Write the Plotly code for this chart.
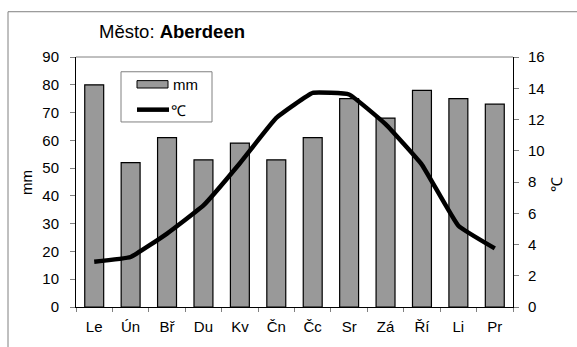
import plotly.graph_objects as go

# Monthly climate normals for Aberdeen
months = ["Le", "Ún", "Bř", "Du", "Kv", "Čn", "Čc", "Sr", "Zá", "Ří", "Li", "Pr"]
precip_mm = [80, 52, 61, 53, 59, 53, 61, 75, 68, 78, 75, 73]
temp_c = [2.9, 3.2, 4.7, 6.5, 9.2, 12.1, 13.7, 13.6, 11.7, 9.1, 5.2, 3.75]

left_ticks = list(range(0, 91, 10))
right_ticks = list(range(0, 17, 2))

FONT = "Liberation Sans, Arial, sans-serif"
BAR_FILL = "#999999"

# plot-area geometry in pixels, used to place the frame and legend box
W, H = 577, 347
L, R, T, B = 76, 64, 57, 36
PW, PH = W - L - R, H - T - B


def px(x):
    return (x - L) / PW


def py(y):
    return (H - B - y) / PH


fig = go.Figure()

fig.add_trace(go.Bar(
    x=months, y=precip_mm, name="mm",
    marker=dict(color=BAR_FILL, line=dict(color="#000000", width=1.2)),
    showlegend=False,
))
fig.add_trace(go.Scatter(
    x=months, y=temp_c, name="℃", yaxis="y2",
    mode="lines",
    line=dict(color="#000000", width=4.5, shape="spline", smoothing=0.3),
    showlegend=False,
))

fig.update_layout(
    width=W, height=H,
    margin=dict(l=L, r=R, t=T, b=B),
    paper_bgcolor="white", plot_bgcolor="white",
    font=dict(family=FONT, size=15, color="#000000"),
    bargap=0.48,
    title=dict(
        text="Město: <b>Aberdeen</b>",
        x=px(172), xref="paper", xanchor="center",
        y=1 - 32 / H, yanchor="middle",
        font=dict(family=FONT, size=18.5, color="#000000"),
    ),
    xaxis=dict(
        type="category", tickson="boundaries",
        showline=True, linecolor="#000000", linewidth=1,
        ticks="outside", ticklen=4, tickcolor="#808080",
        showgrid=False, zeroline=False,
        ticklabelstandoff=6,
    ),
    yaxis=dict(
        range=[0, 90], tickvals=left_ticks,
        showline=True, linecolor="#000000", linewidth=1,
        ticks="outside", ticklen=5, tickcolor="#808080",
        showgrid=False, zeroline=False,
        ticklabelstandoff=8,
    ),
    yaxis2=dict(
        range=[0, 16], tickvals=right_ticks,
        overlaying="y", side="right",
        showline=True, linecolor="#000000", linewidth=1,
        ticks="outside", ticklen=5, tickcolor="#808080",
        showgrid=False, zeroline=False,
        ticklabelstandoff=6,
    ),
)

# Axis titles
fig.add_annotation(text="mm", x=px(27), y=py(185), xref="paper", yref="paper",
                   xanchor="center", yanchor="middle",
                   textangle=-90, showarrow=False, font=dict(family=FONT, size=15))
fig.add_annotation(text="℃", x=px(557), y=py(187), xref="paper", yref="paper",
                   xanchor="center", yanchor="middle",
                   textangle=-90, showarrow=False, font=dict(family=FONT, size=15))

# Grey top edge of the plot area
fig.add_shape(type="line", xref="paper", yref="paper", x0=0, x1=1, y0=1, y1=1,
              line=dict(color="#808080", width=1))
# Outer chart frame (left and top edges)
fig.add_shape(type="line", xref="paper", yref="paper", x0=px(8), x1=px(8),
              y0=py(11), y1=py(H + 5), line=dict(color="#808080", width=1))
fig.add_shape(type="line", xref="paper", yref="paper", x0=px(8), x1=px(W + 5),
              y0=py(11), y1=py(11), line=dict(color="#808080", width=1))

# Legend box with a wide bar swatch and a line sample
fig.add_shape(type="rect", xref="paper", yref="paper",
              x0=px(121), x1=px(212), y0=py(72), y1=py(123),
              line=dict(color="#808080", width=1), fillcolor="white", layer="above")
fig.add_shape(type="rect", xref="paper", yref="paper",
              x0=px(137), x1=px(168), y0=py(81), y1=py(88.5),
              line=dict(color="#000000", width=1), fillcolor=BAR_FILL, layer="above")
fig.add_shape(type="line", xref="paper", yref="paper",
              x0=px(137), x1=px(169), y0=py(110.5), y1=py(110.5),
              line=dict(color="#000000", width=4.5), layer="above")
fig.add_annotation(text="mm", x=px(171), y=py(85), xref="paper", yref="paper",
                   xanchor="left", yanchor="middle", showarrow=False,
                   font=dict(family=FONT, size=15))
fig.add_annotation(text="℃", x=px(169), y=py(111), xref="paper", yref="paper",
                   xanchor="left", yanchor="middle", showarrow=False,
                   font=dict(family=FONT, size=15))

fig.write_html("out.html")
